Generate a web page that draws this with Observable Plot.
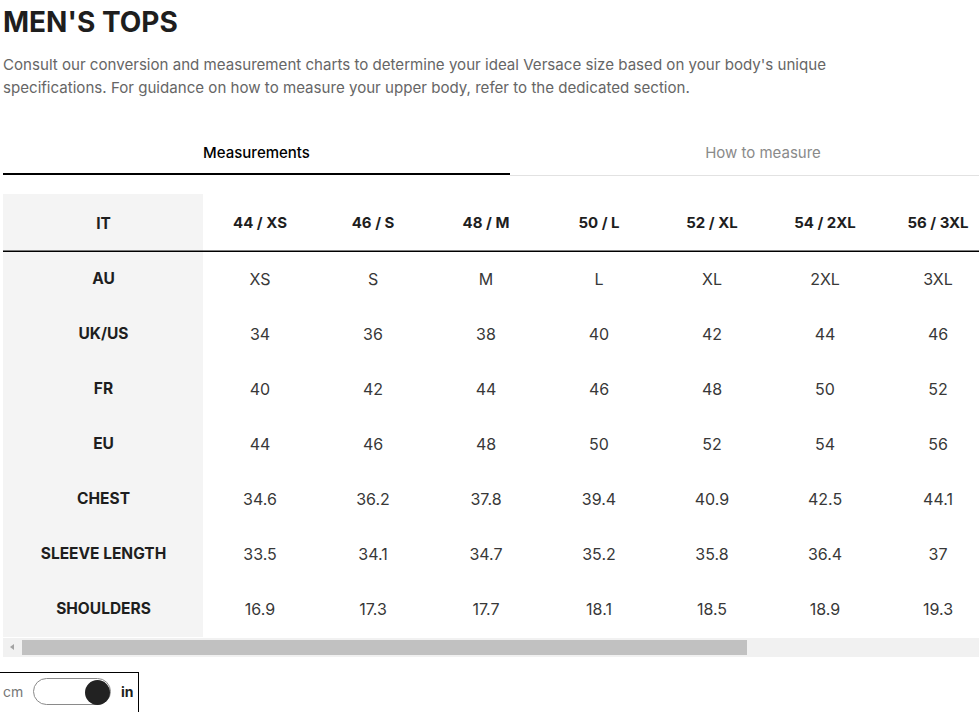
<!DOCTYPE html>
<html><head><meta charset="utf-8">
<script src="https://cdn.jsdelivr.net/npm/d3@7"></script>
<script src="https://cdn.jsdelivr.net/npm/@observablehq/plot@0.6"></script>
<style>
html,body{margin:0;padding:0;background:#fff;overflow:hidden;}
body{width:979px;height:712px;position:relative;font-family:Inter,"Noto Sans",sans-serif;color:#1e1e1e;}
.abs{position:absolute;}
#title{left:3px;top:0;font-size:28px;line-height:44px;font-weight:700;color:#1e1e1e;white-space:nowrap;}
#sub{left:3px;top:53px;width:860px;font-size:15.1px;line-height:23px;color:#666;font-weight:400;}
.tab{top:130px;height:46px;line-height:46px;text-align:center;font-size:15px;box-sizing:border-box;}
#tab1{left:3px;width:507px;font-weight:500;color:#000;}
#tab2{left:510px;width:506px;color:#8a8a8a;font-weight:400;}
#ul1{left:3px;top:173px;width:507px;height:2px;background:#000;}
#ul2{left:510px;top:175px;width:469px;height:1px;background:#e2e2e2;}
#table{left:3px;top:194px;}
#track{left:3px;top:638px;width:976px;height:19px;background:#f1f1f1;}
#thumb{left:22px;top:640px;width:725px;height:15px;background:#c1c1c1;}
#arrow{left:10px;top:644px;width:0;height:0;border-top:3.5px solid transparent;border-bottom:3.5px solid transparent;border-right:4px solid #a3a3a3;}
#tbox{left:-1px;top:672px;width:138px;height:50px;border:1px solid #000;}
#cm{left:3px;top:682px;font-size:14px;line-height:20px;color:#777;}
#pill{left:33px;top:678px;width:78px;height:27px;border:1px solid #8a8a8a;border-radius:15px;box-sizing:border-box;}
#knob{left:85px;top:680px;width:25px;height:25px;border-radius:50%;background:#222;}
#in{left:121px;top:682px;font-size:14px;line-height:20px;font-weight:700;color:#1e1e1e;}
</style></head>
<body>
<div id="title" class="abs">MEN'S TOPS</div>
<div id="sub" class="abs">Consult our conversion and measurement charts to determine your ideal Versace size based on your body's unique specifications. For guidance on how to measure your upper body, refer to the dedicated section.</div>
<div id="tab1" class="abs tab">Measurements</div>
<div id="tab2" class="abs tab">How to measure</div>
<div id="ul1" class="abs"></div>
<div id="ul2" class="abs"></div>
<div id="table" class="abs"></div>
<div id="track" class="abs"></div>
<div id="thumb" class="abs"></div>
<div id="arrow" class="abs"></div>
<div id="tbox" class="abs"></div>
<div id="cm" class="abs">cm</div>
<div id="pill" class="abs"></div>
<div id="knob" class="abs"></div>
<div id="in" class="abs">in</div>
<script>
// ---- data ----
const headerLabel = "IT";
const sizes = ["44 / XS","46 / S","48 / M","50 / L","52 / XL","54 / 2XL","56 / 3XL"];
const rows = ["AU","UK/US","FR","EU","CHEST","SLEEVE LENGTH","SHOULDERS"];
const au = ["XS","S","M","L","XL","2XL","3XL"];
const ukus = ["34","36","38","40","42","44","46"];
const fr = ["40","42","44","46","48","50","52"];
const eu = ["44","46","48","50","52","54","56"];
const chest = ["34.6","36.2","37.8","39.4","40.9","42.5","44.1"];
const sleeve = ["33.5","34.1","34.7","35.2","35.8","36.4","37"];
const shoulders = ["16.9","17.3","17.7","18.1","18.5","18.9","19.3"];

const series = [au, ukus, fr, eu, chest, sleeve, shoulders];
const cells = rows.flatMap((r, j) => sizes.map((s, i) => ({row: r, size: s, value: series[j][i]})));
const rowsAll = [headerLabel, ...rows];

const H = 443;
const rowH = H / rowsAll.length;

const plot = Plot.plot({
  width: 976,
  height: H,
  marginLeft: 200,
  marginRight: -15,
  marginTop: 0,
  marginBottom: 0,
  style: {fontFamily: "Inter, 'Noto Sans', sans-serif", color: "#1e1e1e", background: "linear-gradient(to right, #f4f4f4 200px, #fff 200px)", overflow: "visible"},
  x: {type: "band", domain: sizes, padding: 0, axis: null},
  y: {type: "band", domain: rowsAll, padding: 0, axis: null},
  marks: [
    Plot.axisY({anchor: "left", label: null, tickSize: 0, tickPadding: 100, textAnchor: "middle", fontSize: 15.5, fontWeight: 700, fill: "#1e1e1e"}),
    Plot.text(sizes, {x: d => d, y: () => headerLabel, text: d => d, dy: -1, fontSize: 15, fontWeight: 700, fill: "#1e1e1e"}),
    Plot.text(cells, {x: "size", y: "row", text: "value", dy: 0.8, fontSize: 16, fill: "#383838"}),
    Plot.ruleY([rows[0]], {y: d => d, dy: -rowH / 2, stroke: "#000", strokeWidth: 1.5, insetLeft: -200, insetRight: 15})
  ]
});
document.getElementById("table").appendChild(plot);
</script>
</body></html>
